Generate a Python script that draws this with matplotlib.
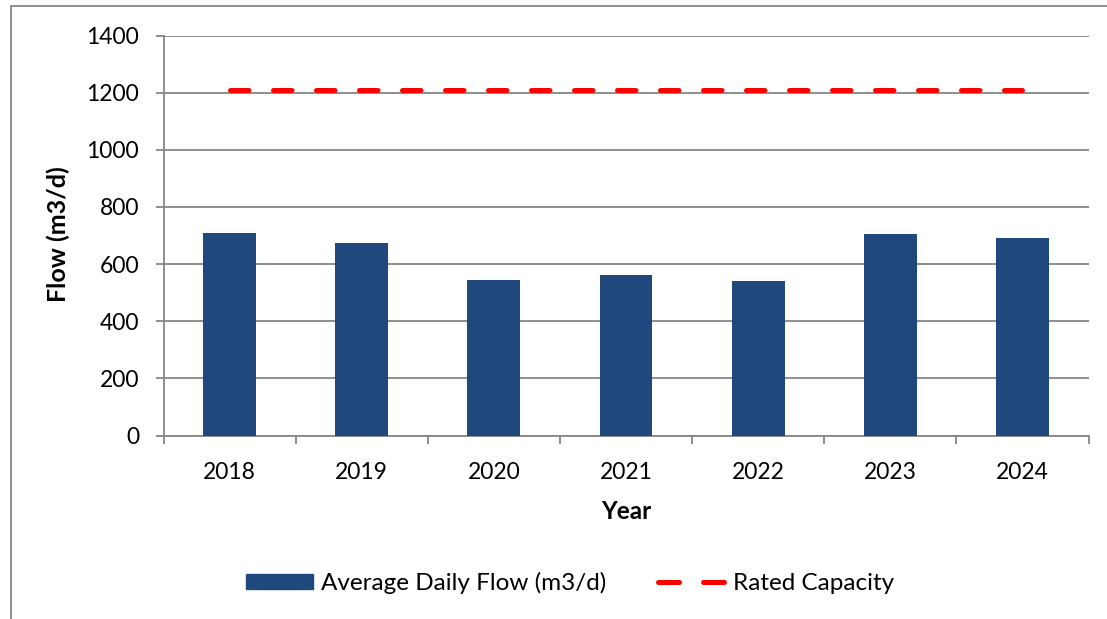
import matplotlib.pyplot as plt
import matplotlib.patches as mpatches
from matplotlib.lines import Line2D
import numpy as np

# data
years = ['2018', '2019', '2020', '2021', '2022', '2023', '2024']
avg_daily_flow = [709, 674, 544, 561, 541, 705, 690]
rated_capacity = [1210, 1210, 1210, 1210, 1210, 1210, 1210]

plt.rcParams['font.family'] = ['Lato', 'DejaVu Sans']

W, H = 1107, 619
fig = plt.figure(figsize=(W / 100, H / 100), dpi=100)
ax = fig.add_axes([163.5 / W, 1 - 435.5 / H, 925 / W, 400 / H])

grid_col = '#868686'
x = np.arange(len(years))

ax.bar(x, avg_daily_flow, width=0.4, color='#1F497D', zorder=3)
ax.plot(x, rated_capacity, color='#FF0000', lw=3.6, dashes=(3.7, 4.9),
        dash_capstyle='round', zorder=4)

ax.set_xlim(-0.5, len(years) - 0.5)
ax.set_ylim(0, 1400)
ax.set_yticks(range(0, 1401, 200))
ax.yaxis.grid(True, color=grid_col, lw=1.3, zorder=0)

# category labels between boundary ticks
ax.set_xticks(np.arange(-0.5, len(years), 1.0))
ax.set_xticklabels([])
ax.set_xticks(x, minor=True)
ax.set_xticklabels(years, minor=True)
ax.tick_params(axis='x', which='major', length=5.5, width=1.3, color=grid_col, direction='out')
ax.tick_params(axis='x', which='minor', length=0, labelsize=16.5, pad=19)
ax.tick_params(axis='y', length=5.5, width=1.3, color=grid_col, labelsize=16.5, pad=12)

for side in ['top', 'right']:
    ax.spines[side].set_visible(False)
for side in ['left', 'bottom']:
    ax.spines[side].set_color(grid_col)
    ax.spines[side].set_linewidth(1.3)

# y title placed directly so it sits where the reference has it
fig.text(58 / W, 1 - 234.5 / H, 'Flow (m3/d)', rotation=90, ha='center', va='center',
         fontsize=18, fontweight='bold')
ax.set_xlabel('Year', fontsize=17.5, fontweight='bold', labelpad=12)

# legend along the bottom
handles = [mpatches.Patch(color='#1F497D'),
           Line2D([0], [0], color='#FF0000', lw=3.6, dashes=(4.2, 4.8), dash_capstyle='round')]
fig.legend(handles, ['Average Daily Flow (m3/d)', 'Rated Capacity'], ncol=2,
           loc='center', bbox_to_anchor=(570 / W, 1 - 583 / H), frameon=False,
           fontsize=17.5, handlelength=2.75, handleheight=0.55, handletextpad=0.35,
           columnspacing=2.1)

# outer chart frame (cut off at right and bottom in the reference)
fig.patches.append(mpatches.Rectangle((11 / W, -0.1), 1.2, 1 - 6 / H + 0.1,
                                      transform=fig.transFigure, fill=False,
                                      edgecolor=grid_col, lw=1.3))

fig.savefig('out.png', dpi=100)
